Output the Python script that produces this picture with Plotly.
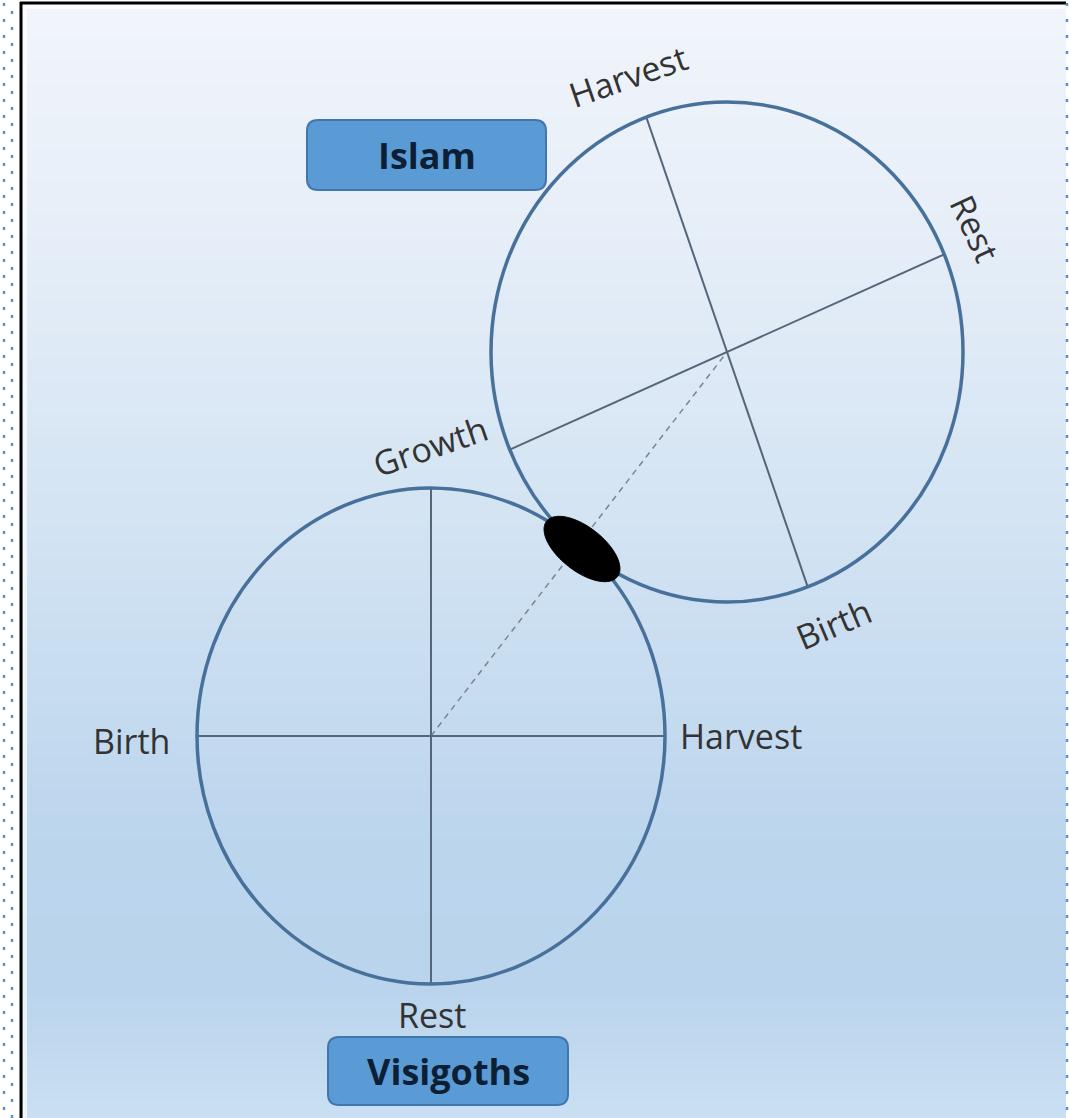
import math
import plotly.graph_objects as go

# ---------------- data ----------------
lower_labels = ["Harvest", "Rest", "Birth"]          # spokes at 0, 90, 180 deg
lower_spoke_angles = [0, 90]                          # diameters (deg, screen coords)
upper_labels = ["Rest", "Birth", "Growth", "Harvest"]
upper_spoke_angles = [-23, 70]                        # diameters (deg, screen coords)
box_titles = ["Islam", "Visigoths"]

# ---------------- geometry / style ----------------
W, H = 1069, 1118
LOW = dict(cx=431, cy=736, rx=234, ry=248)
UP = dict(cx=727, cy=352, rx=236, ry=250)

lower_label_pos = [(741, 736, 0), (432, 1015, 0), (131, 741, 0)]
upper_label_pos = [(975, 228, 65), (833, 624, -23), (430, 446, -19), (628, 76, -19)]
box_pos = [(307, 120, 546, 190), (328, 1037, 568, 1105)]

CIRCLE_COL = "#47709a"
SPOKE_COL = "#56667a"
LABEL_COL = "#333333"
FONT = "Open Sans"


def ell_pt(c, ang):
    a = math.radians(ang)
    return c["cx"] + c["rx"] * math.cos(a), c["cy"] + c["ry"] * math.sin(a)


def ellipse_path(cx, cy, a, b, rot, n=120):
    r = math.radians(rot)
    pts = []
    for i in range(n + 1):
        t = 2 * math.pi * i / n
        x, y = a * math.cos(t), b * math.sin(t)
        pts.append((cx + x * math.cos(r) - y * math.sin(r), cy + x * math.sin(r) + y * math.cos(r)))
    return "M " + " L ".join(f"{x:.2f},{y:.2f}" for x, y in pts) + " Z"


def rounded_rect(x0, y0, x1, y1, r):
    return (f"M {x0+r},{y0} L {x1-r},{y0} Q {x1},{y0} {x1},{y0+r} L {x1},{y1-r} "
            f"Q {x1},{y1} {x1-r},{y1} L {x0+r},{y1} Q {x0},{y1} {x0},{y1-r} "
            f"L {x0},{y0+r} Q {x0},{y0} {x0+r},{y0} Z")


def lerp_col(stops, t):
    for (t0, c0), (t1, c1) in zip(stops, stops[1:]):
        if t0 <= t <= t1:
            f = (t - t0) / (t1 - t0) if t1 > t0 else 0
            h0 = [int(c0[i:i + 2], 16) for i in (1, 3, 5)]
            h1 = [int(c1[i:i + 2], 16) for i in (1, 3, 5)]
            return "rgb(%d,%d,%d)" % tuple(round(a + (b - a) * f) for a, b in zip(h0, h1))
    return stops[-1][1]


shapes = []

# background gradient panel
grad = [(0.0, "#f1f5fb"), (0.2, "#e6eef8"), (0.45, "#d4e4f3"), (0.75, "#bbd5ed"),
        (0.88, "#b9d4ec"), (1.0, "#cadff2")]
px0, py0, px1, py1 = 22, 4, 1066, H
band = 8
y = py0
while y < py1:
    t = (y - py0) / (py1 - py0)
    shapes.append(dict(type="rect", xref="x", yref="y", x0=px0, x1=px1, y0=y, y1=min(y + band + 1, py1),
                       fillcolor=lerp_col(grad, t), line=dict(width=0), layer="below"))
    y += band

# inner light glow
shapes.append(dict(type="line", x0=25, x1=25, y0=5, y1=H, line=dict(color="rgba(255,255,255,0.7)", width=4), layer="below"))
shapes.append(dict(type="line", x0=22, x1=1066, y0=7, y1=7, line=dict(color="rgba(255,255,255,0.7)", width=4), layer="below"))
# black frame top & left
shapes.append(dict(type="line", x0=20, x1=1066, y0=3, y1=3, line=dict(color="#000000", width=3)))
shapes.append(dict(type="line", x0=21, x1=21, y0=2, y1=H, line=dict(color="#000000", width=3)))
# dotted outer borders
for xx, off in [(4, 0), (12, 8), (1067, 0)]:
    shapes.append(dict(type="line", x0=xx, x1=xx, y0=3 + off, y1=H,
                       line=dict(color="#5b8fd0", width=2.5, dash="3px,13px")))

# dashed connector between centers
shapes.append(dict(type="line", x0=LOW["cx"], y0=LOW["cy"], x1=UP["cx"], y1=UP["cy"],
                   line=dict(color="#7a8490", width=1.5, dash="6px,5px")))

# spokes
for c, angs in [(LOW, lower_spoke_angles), (UP, upper_spoke_angles)]:
    for a in angs:
        x0, y0 = ell_pt(c, a)
        x1, y1 = ell_pt(c, a + 180)
        shapes.append(dict(type="line", x0=x0, y0=y0, x1=x1, y1=y1, line=dict(color=SPOKE_COL, width=2)))

# circles
for c in (LOW, UP):
    shapes.append(dict(type="circle", x0=c["cx"] - c["rx"], x1=c["cx"] + c["rx"],
                       y0=c["cy"] - c["ry"], y1=c["cy"] + c["ry"], line=dict(color=CIRCLE_COL, width=3.5)))

# black junction ellipse
shapes.append(dict(type="path", path=ellipse_path(582, 549, 45, 22, 38), fillcolor="#000000",
                   line=dict(color="#000000", width=1)))

# title boxes
for (x0, y0, x1, y1) in box_pos:
    shapes.append(dict(type="path", path=rounded_rect(x0, y0, x1, y1, 11), fillcolor="#5b9bd5",
                       line=dict(color="#4277ad", width=2)))

annotations = []
for txt, (x, y, ang) in zip(lower_labels + upper_labels, lower_label_pos + upper_label_pos):
    annotations.append(dict(x=x, y=y, text=txt, showarrow=False, textangle=ang,
                            font=dict(family=FONT, size=34, color=LABEL_COL), xanchor="center", yanchor="middle"))
for txt, (x0, y0, x1, y1) in zip(box_titles, box_pos):
    annotations.append(dict(x=(x0 + x1) / 2, y=(y0 + y1) / 2, text="<b>%s</b>" % txt, showarrow=False,
                            font=dict(family=FONT, size=36, color="#0c1f35"), xanchor="center", yanchor="middle"))

fig = go.Figure()
fig.add_trace(go.Scatter(x=[LOW["cx"], UP["cx"]], y=[LOW["cy"], UP["cy"]], mode="markers",
                         marker=dict(size=1, color="rgba(0,0,0,0)"), hoverinfo="skip", showlegend=False))
fig.update_layout(
    width=W, height=H, margin=dict(l=0, r=0, t=0, b=0),
    paper_bgcolor="#ffffff", plot_bgcolor="#ffffff",
    xaxis=dict(range=[0, W], visible=False, fixedrange=True),
    yaxis=dict(range=[H, 0], visible=False, fixedrange=True),
    shapes=shapes, annotations=annotations, showlegend=False,
)
fig.write_html("out.html", config={"displayModeBar": False},
               post_script="document.body.style.margin='0';document.body.style.overflow='hidden';")
